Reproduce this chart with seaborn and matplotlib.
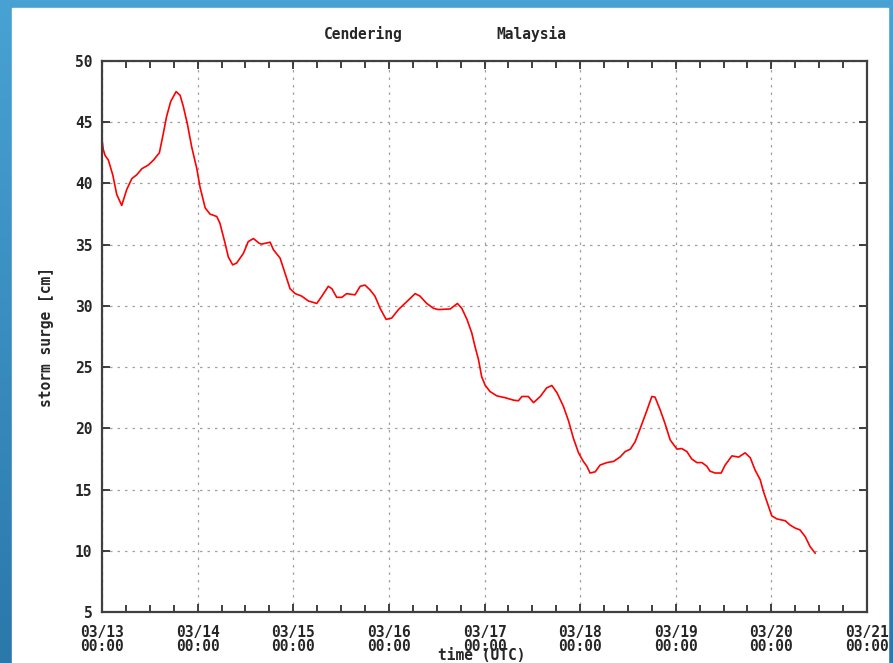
import numpy as np
import pandas as pd
import matplotlib
matplotlib.use("Agg")
import matplotlib.pyplot as plt
from matplotlib.patches import Rectangle
import seaborn as sns

sns.set_style("ticks")
plt.rcParams["font.family"] = ["DejaVu Sans Mono", "DejaVu Sans"]

# hours since 03/13 00:00 UTC, storm surge in cm
hours = [0.0, 0.3, 0.75, 1.6, 2.7, 3.7, 4.95, 6.2, 7.5, 8.7, 10.0, 11.6, 12.9, 14.4,
         15.4, 16.2, 17.25, 18.6, 19.6, 20.4, 21.4, 22.5, 23.8, 24.6, 25.9, 27.1,
         28.8, 29.6, 30.9, 31.7, 32.8, 33.8, 35.5, 36.7, 38.0, 39.5, 40.1, 42.2,
         43.0, 44.7, 45.9, 47.2, 48.5, 50.1, 51.8, 53.9, 55.2, 56.8, 57.7, 58.9,
         60.2, 61.4, 63.5, 64.8, 66.0, 67.3, 68.5, 69.8, 71.3, 72.7, 74.4, 76.5,
         78.6, 79.8, 81.5, 83.2, 84.4, 87.4, 89.2, 90.3, 91.6, 92.8, 93.6, 94.5,
         95.3, 96.2, 97.4, 99.1, 101.2, 103.3, 104.5, 105.4, 107.0, 108.3, 110.0,
         111.6, 112.9, 114.2, 115.8, 117.1, 118.3, 119.6, 120.8, 121.7, 122.5,
         123.8, 125.0, 126.7, 128.4, 130.0, 131.3, 132.6, 133.8, 135.1, 136.8,
         138.0, 138.8, 140.1, 141.3, 142.6, 144.3, 145.5, 146.8, 148.0, 149.3,
         150.6, 151.8, 152.6, 153.9, 155.4, 156.4, 158.1, 159.8, 161.4, 162.7,
         163.9, 165.2, 166.0, 167.3, 168.1, 169.4, 171.5, 172.7, 174.0, 175.2,
         176.5, 177.7, 179.0]
surge = [43.6, 42.8, 42.3, 41.9, 40.7, 39.1, 38.2, 39.5, 40.4, 40.7, 41.2, 41.5, 41.9, 42.5,
         44.1, 45.45, 46.7, 47.5, 47.2, 46.3, 44.9, 43.0, 41.2, 39.7, 38.0, 37.5,
         37.3, 36.75, 35.1, 34.0, 33.35, 33.5, 34.3, 35.25, 35.5, 35.1, 35.05, 35.2,
         34.6, 33.9, 32.7, 31.4, 31.0, 30.8, 30.4, 30.2, 30.8, 31.6, 31.4, 30.7,
         30.7, 31.0, 30.9, 31.6, 31.7, 31.3, 30.8, 29.8, 28.9, 29.0, 29.7, 30.35,
         31.0, 30.8, 30.2, 29.8, 29.7, 29.75, 30.2, 29.8, 28.9, 27.8, 26.7, 25.6,
         24.2, 23.5, 23.0, 22.65, 22.5, 22.3, 22.25, 22.6, 22.6, 22.1, 22.6,
         23.3, 23.5, 22.9, 21.8, 20.6, 19.2, 18.0, 17.3, 16.9, 16.35,
         16.45, 17.0, 17.2, 17.3, 17.65, 18.1, 18.3, 18.9, 20.0, 21.5,
         22.6, 22.55, 21.5, 20.4, 19.05, 18.3, 18.35, 18.1, 17.5, 17.2,
         17.2, 16.9, 16.5, 16.35, 16.35, 17.0, 17.75, 17.65, 18.0, 17.6,
         16.6, 15.8, 14.85, 13.6, 12.85, 12.6, 12.45, 12.1, 11.85, 11.7,
         11.15, 10.35, 9.8]

day_labels = ["03/13", "03/14", "03/15", "03/16", "03/17", "03/18", "03/19", "03/20", "03/21"]
y_ticks = [5, 10, 15, 20, 25, 30, 35, 40, 45, 50]
title_left = "Cendering"
title_right = "Malaysia"

df = pd.DataFrame({"hours": hours, "surge": surge})

W, H = 893, 663
fig = plt.figure(figsize=(W / 100, H / 100), dpi=100)

# blue gradient frame behind a white page
bg = fig.add_axes([0, 0, 1, 1], zorder=-10)
grad = np.linspace(0, 1, 256).reshape(-1, 1)
cmap = matplotlib.colors.LinearSegmentedColormap.from_list("bg", ["#48a2d4", "#2b78ab"])
bg.imshow(grad, aspect="auto", cmap=cmap, extent=[0, 1, 0, 1])
bg.add_patch(Rectangle((12 / W, 0), (888 - 12) / W, 1 - 8 / H, color="white"))
bg.set_xlim(0, 1)
bg.set_ylim(0, 1)
bg.axis("off")

ax = fig.add_axes([102 / W, 1 - 612 / H, (867 - 102) / W, (612 - 61) / H])
ax.set_facecolor("white")
sns.lineplot(data=df, x="hours", y="surge", ax=ax, color="#ff0000", linewidth=1.2)

ax.set_xlim(0, 192)
ax.set_ylim(5, 50)
ax.set_xticks(np.arange(0, 193, 24))
ax.set_xticklabels([f"{d}\n00:00" for d in day_labels], fontweight="bold",
                   fontsize=10.5, linespacing=0.95)
ax.set_xticks(np.arange(0, 193, 6), minor=True)
ax.set_yticks(y_ticks)
ax.set_yticklabels([str(v) for v in y_ticks], fontweight="bold", fontsize=10.5)

ax.grid(True, which="major", color="#a0a0a0", linestyle=(0, (2, 4)), linewidth=0.9)
ax.tick_params(axis="both", which="both", direction="in", top=True, right=True,
               color="#303030", width=1.3)
ax.tick_params(axis="x", which="major", length=6, pad=9)
ax.tick_params(axis="x", which="minor", length=5)
ax.tick_params(axis="y", which="major", length=6, pad=7)
for s in ax.spines.values():
    s.set_color("#404040")
    s.set_linewidth(1.6)

ax.set_xlabel("")
ax.set_ylabel("")
fig.text(47 / W, 1 - 337 / H, "storm surge [cm]", rotation=90, ha="center", va="center",
         fontweight="bold", fontsize=10.5)
fig.text(482 / W, 1 - 656 / H, "time (UTC)", ha="center", va="center",
         fontweight="bold", fontsize=10.5)
fig.text(363 / W, 1 - 34 / H, title_left, ha="center", va="center",
         fontweight="bold", fontsize=10.5)
fig.text(531 / W, 1 - 34 / H, title_right, ha="center", va="center",
         fontweight="bold", fontsize=10.5)

fig.savefig("out.png", dpi=100)
